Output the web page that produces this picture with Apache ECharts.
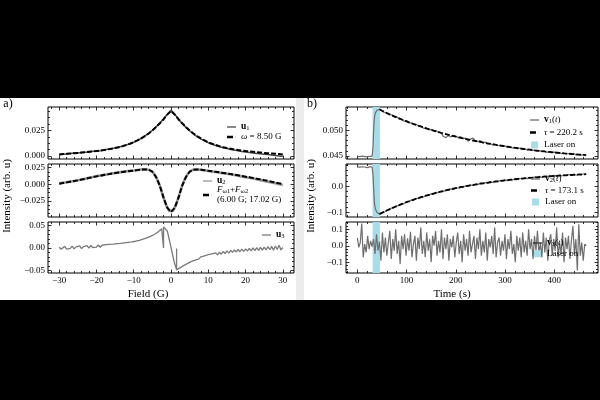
<!DOCTYPE html>
<html>
<head>
<meta charset="utf-8">
<script src="https://cdn.jsdelivr.net/npm/echarts@6.0.0/dist/echarts.min.js"></script>
<style>
  html, body { margin: 0; padding: 0; background: #000; }
  #chart { width: 600px; height: 400px; }
</style>
</head>
<body>
<div id="chart"></div>
<script>
// ---------- a) field sweep ----------
const fieldX = [-30,-29,-28,-27,-26,-25,-24,-23,-22,-21,-20,-19,-18,-17,-16,-15,-14,-13,-12,-11,-10,-9,-8,-7,-6,-5,-4,-3,-2,-1,
  0,1,2,3,4,5,6,7,8,9,10,11,12,13,14,15,16,17,18,19,20,21,22,23,24,25,26,27,28,29,30]
const u1Vals = [.0012,.0016,.0020,.0023,.0028,.0029,.0034,.0037,.0039,.0045,.0049,.0052,.0059,.0065,.0070,.0079,.0087,.0095,.0108,.0121,
  .0134,.0153,.0171,.0196,.0221,.0252,.0285,.0322,.0362,.0408,
  .0448,
  .0410,.0362,.0318,.0280,.0247,.0217,.0190,.0168,.0148,.0130,.0115,.0102,.0091,.0081,.0072,.0064,.0057,.0050,.0044,.0039,
  .0034,.0029,.0025,.0021,.0017,.0013,.0009,.0005,.0000,-.0006]
const fit1Vals = [.0015,.0018,.0021,.0024,.0027,.0030,.0033,.0036,.0040,.0044,.0048,.0053,.0058,.0064,.0071,.0078,.0086,.0096,.0107,.0120,
  .0135,.0152,.0172,.0194,.0220,.0250,.0283,.0320,.0360,.0405,
  .0440,
  .0405,.0360,.0320,.0283,.0250,.0220,.0194,.0172,.0152,.0135,.0120,.0107,.0096,.0086,.0078,.0071,.0064,.0058,.0053,.0048,
  .0044,.0040,.0036,.0033,.0030,.0027,.0024,.0021,.0018,.0015]
const fit2Vals = [.0010,.0020,.0030,.0040,.0050,.0060,.0072,.0084,.0096,.0108,.0120,.0130,.0140,.0150,.0160,.0170,.0178,.0186,.0194,.0200,
  .0206,.0214,.0221,.0225,.0220,.0190,.0110,-.0020,-.0200,-.0350,
  -.0415,
  -.0350,-.0200,-.0020,.0110,.0190,.0220,.0225,.0220,.0212,.0204,.0196,.0188,.0180,.0172,.0164,.0155,.0146,.0136,.0126,.0116,
  .0106,.0096,.0086,.0075,.0064,.0052,.0040,.0028,.0016,.0005]
const fieldXFine = [-30,-29.5,-29,-28.5,-28,-27.5,-27,-26.5,-26,-25.5,-25,-24.5,-24,-23.5,-23,-22.5,-22,-21.5,-21,-20.5,
  -20,-19.5,-19,-18.5,-18,-17.5,-17,-16.5,-16,-15.5,-15,-14.5,-14,-13.5,-13,-12.5,-12,-11.5,-11,-10.5,
  -10,-9.5,-9,-8.5,-8,-7.5,-7,-6.5,-6,-5.5,-5,-4.5,-4,-3.5,-3,-2.5,-2,-1.5,-1,-0.5,
  0,0.5,1,1.5,2,2.5,3,3.5,4,4.5,5,5.5,6,6.5,7,7.5,8,8.5,9,9.5,
  10,10.5,11,11.5,12,12.5,13,13.5,14,14.5,15,15.5,16,16.5,17,17.5,18,18.5,19,19.5,
  20,20.5,21,21.5,22,22.5,23,23.5,24,24.5,25,25.5,26,26.5,27,27.5,28,28.5,29,29.5,30]
const u2Vals = [.0012,.0008,.0024,.0019,.0031,.0027,.0043,.0038,.0052,.0049,.0063,.0060,.0074,.0071,.0086,.0083,.0098,.0095,.0110,.0106,
  .0122,.0118,.0133,.0128,.0143,.0138,.0152,.0149,.0162,.0158,.0172,.0167,.0180,.0176,.0189,.0185,.0196,.0192,.0203,.0199,
  .0209,.0206,.0217,.0215,.0224,.0222,.0228,.0222,.0220,.0208,.0190,.0155,.0110,.0050,-.0020,-.0110,-.0200,-.0285,-.0350,-.0398,
  -.0415,-.0398,-.0350,-.0285,-.0200,-.0110,-.0020,.0050,.0110,.0155,.0190,.0210,.0221,.0226,.0224,.0228,.0219,.0222,.0211,.0214,
  .0202,.0206,.0194,.0198,.0186,.0190,.0177,.0182,.0169,.0174,.0160,.0165,.0151,.0155,.0141,.0146,.0131,.0135,.0120,.0125,
  .0109,.0114,.0098,.0103,.0087,.0091,.0076,.0080,.0064,.0069,.0052,.0057,.0040,.0045,.0028,.0033,.0016,.0021,.0004,.0009,-.0010]
const u3X = [-30,-29.5,-29,-28.5,-28,-27.5,-27,-26.5,-26,-25.5,-25,-24.5,-24,-23.5,-23,-22.5,-22,-21.5,-21,-20.5,
  -20,-19.5,-19,-18.5,-18,-17.5,-17,-16.5,-16,-15.5,-15,-14.5,-14,-13.5,-13,-12.5,-12,-11.5,-11,-10.5,
  -10,-9.5,-9,-8.5,-8,-7.5,-7,-6.5,-6,-5.5,-5,-4.5,-4,-3.5,-3,-2.5,
  -2,-2,-2,-1.5,-1,-0.5,0,0.5,1,1.5,1.5,1.5,
  2,2.5,3,3.5,4,4.5,5,5.5,6,6.5,7,7.5,8,8.5,9,9.5,
  10,10.5,11,11.5,12,12.5,13,13.5,14,14.5,15,15.5,16,16.5,17,17.5,18,18.5,19,19.5,
  20,20.5,21,21.5,22,22.5,23,23.5,24,24.5,25,25.5,26,26.5,27,27.5,28,28.5,29,29.5,30]
const u3Vals = [.0020,-.0030,.0010,.0035,-.0025,.0015,-.0010,.0040,-.0020,.0025,
  .0000,.0045,-.0015,.0030,.0005,.0050,-.0005,.0055,.0010,.0045,
  .0020,.0065,.0015,.0060,.0030,.0075,.0035,.0080,.0040,.0085,
  .0050,.0095,.0060,.0100,.0070,.0115,.0080,.0125,.0095,.0135,
  .0110,.0150,.0130,.0170,.0150,.0195,.0180,.0225,.0215,.0260,
  .0255,.0300,.0310,.0355,.0380,.0430,
  .0465,.0000,.0470,.0500,.0380,.0200,.0020,-.0180,-.0360,-.0480,-.0010,-.0490,
  -.0470,-.0440,-.0400,-.0390,-.0350,-.0345,-.0305,-.0300,-.0265,-.0270,
  -.0230,-.0245,-.0200,-.0225,-.0175,-.0205,-.0150,-.0185,-.0130,-.0170,
  -.0110,-.0155,-.0095,-.0140,-.0080,-.0125,-.0065,-.0115,-.0055,-.0100,
  -.0045,-.0090,-.0035,-.0085,-.0025,-.0075,-.0020,-.0070,-.0010,-.0065,
  .0000,-.0060,.0005,-.0055,.0015,-.0050,.0020,-.0045,.0030,-.0040,
  .0035,-.0050,.0045,-.0035,.0060,-.0045,.0010]

// ---------- b) time trace ----------
const vTime = [0,5,10,15,20,25,30,31,32,33,34,35,37,40,43,45,
  50,55,60,65,70,75,80,85,90,95,100,105,110,115,120,125,130,135,140,145,
  150,155,160,165,170,175,180,185,190,195,200,205,210,215,220,225,230,235,240,245,
  250,255,260,265,270,275,280,285,290,295,300,305,310,315,320,325,330,335,340,345,
  350,355,360,365,370,375,380,385,390,395,400,405,410,415,420,425,430,435,440,445,
  450,455,460,465]
const v1Vals = [.04490,.04487,.04495,.04488,.04486,.04493,.04490,.04495,.04700,.04950,.05150,.05270,.05350,.05395,.05412,.05415,
  .05390,.05352,.05345,.05310,.05305,.05262,.05270,.05228,.05220,.05180,
  .05195,.05150,.05148,.05110,.05118,.05080,.05085,.05040,.05050,.05015,
  .05020,.04990,.04995,.04960,.04950,.04880,.04860,.04900,.04870,.04905,
  .04890,.04860,.04875,.04840,.04850,.04790,.04830,.04850,.04800,.04780,
  .04800,.04750,.04775,.04735,.04745,.04715,.04730,.04700,.04710,.04685,
  .04695,.04670,.04680,.04655,.04665,.04640,.04655,.04630,.04640,.04615,
  .04630,.04605,.04615,.04595,.04605,.04585,.04595,.04570,.04585,.04565,
  .04575,.04555,.04565,.04545,.04555,.04538,.04548,.04530,.04540,.04522,
  .04530,.04515,.04525,.04505]
const v2Vals = [.0730,.0724,.0736,.0727,.0700,.0731,.0729,.0720,.0400,.0000,-.0400,-.0680,-.0880,-.1000,-.1050,-.1060,
  -.1000,-.0985,-.0915,-.0895,-.0825,-.0810,-.0745,-.0735,-.0665,-.0660,
  -.0595,-.0590,-.0525,-.0530,-.0460,-.0465,-.0400,-.0410,-.0345,-.0355,
  -.0290,-.0300,-.0235,-.0250,-.0190,-.0205,-.0145,-.0160,-.0100,-.0115,
  -.0060,-.0080,-.0020,-.0045,.0015,-.0005,.0050,.0025,.0080,.0055,
  .0115,.0085,.0140,.0110,.0170,.0140,.0195,.0160,.0215,.0190,
  .0240,.0210,.0265,.0230,.0280,.0250,.0300,.0270,.0320,.0285,
  .0335,.0300,.0350,.0320,.0370,.0330,.0385,.0345,.0400,.0360,
  .0410,.0370,.0420,.0385,.0435,.0395,.0445,.0405,.0455,.0415,
  .0460,.0425,.0470,.0455]
const tauTime = [45,50,60,70,80,90,100,110,120,130,140,150,160,170,180,190,200,210,220,230,240,
  250,260,270,280,290,300,310,320,330,340,350,360,370,380,390,400,410,420,430,440,450,460,465]
const tau1Vals = [.05415,.05387,.05341,.05297,.05256,.05216,.05178,.05142,.05107,.05074,.05042,.05012,.04983,.04955,.04929,.04903,
  .04879,.04856,.04834,.04813,.04793,.04774,.04755,.04738,.04721,.04705,.04690,.04675,.04661,.04648,.04635,.04623,
  .04611,.04600,.04589,.04579,.04569,.04560,.04551,.04543,.04535,.04527,.04519,.04515]
const tau2Vals = [-.1060,-.1013,-.0922,-.0837,-.0756,-.0680,-.0608,-.0540,-.0476,-.0416,-.0359,-.0305,-.0254,-.0206,-.0161,-.0118,
  -.0078,-.0040,-.0004,.0030,.0062,.0092,.0121,.0148,.0173,.0197,.0220,.0241,.0261,.0280,.0298,.0315,
  .0331,.0346,.0360,.0374,.0387,.0399,.0410,.0421,.0431,.0440,.0449,.0453]
const v3Time = [0,3,6,9,12,15,18,21,24,27,30,33,36,39,42,45,48,51,54,57,60,63,66,69,72,75,78,81,84,87,
  90,93,96,99,102,105,108,111,114,117,120,123,126,129,132,135,138,141,144,147,150,153,156,159,162,165,168,171,174,177,
  180,183,186,189,192,195,198,201,204,207,210,213,216,219,222,225,228,231,234,237,240,243,246,249,252,255,258,261,264,267,
  270,273,276,279,282,285,288,291,294,297,300,303,306,309,312,315,318,321,324,327,330,333,336,339,342,345,348,351,354,357,
  360,363,366,369,372,375,378,381,384,387,390,393,396,399,402,405,408,411,414,417,420,423,426,429,432,435,438,441,444,447,
  450,453,456,459,462,465]
const v3Vals = [.048,-.010,.020,.135,-.070,.010,-.040,.060,-.020,.030,
  -.005,.040,-.050,.070,-.030,.025,-.090,.080,-.040,.050,
  -.060,.020,.090,-.080,.040,-.030,.100,-.050,.030,-.110,
  .060,-.020,.070,-.060,.045,-.030,.085,-.070,.010,.060,
  -.090,.050,-.020,.110,-.050,.030,-.070,.080,-.030,.040,
  -.100,.060,.000,.090,-.060,.030,-.040,.100,-.080,.050,
  -.020,.070,-.090,.040,-.010,.060,-.070,.020,.080,-.050,
  .030,-.100,.070,-.030,.040,-.060,.090,-.040,.010,.060,
  -.080,.050,-.020,.100,-.060,.030,-.040,.080,-.090,.040,
  -.010,.060,-.050,.110,-.070,.020,.050,-.060,.030,-.030,
  .070,-.080,.040,-.020,.090,-.050,.010,-.100,.060,-.030,
  .050,-.070,.080,-.040,.030,-.060,.100,-.020,.040,-.080,
  .060,-.030,.090,-.050,.020,-.070,.080,-.040,.050,-.090,
  .030,.070,-.060,.040,-.030,.110,-.070,.020,-.050,.080,
  -.100,.050,-.020,.060,-.080,.030,.120,-.050,.040,-.150,
  .130,-.060,.020,-.090,.010,.000]
const laserOn = [31, 46]

// tick labels
const fieldTicks = [-30, -20, -10, 0, 10, 20, 30]
const timeTicks = [0, 100, 200, 300, 400]
const a1Ticks = [0, 0.025]
const a2Ticks = [-0.025, 0, 0.025]
const a3Ticks = [-0.05, 0, 0.05]
const b1Ticks = [0.045, 0.050]
const b2Ticks = [-0.1, 0.0]
const b3Ticks = [-0.1, 0.0, 0.1]

const FONT = '"Liberation Serif", "DejaVu Serif", serif'
const LASER = '#a9dce9'
const DATA_GREY = '#6e6e6e'

const zip = (xs, ys) => xs.map((x, i) => [x, ys[i]])
const signed = d => v => (v < -1e-9 ? '\u2212' : '') + Math.abs(v).toFixed(d)

const grids = [
    { left: 48, top: 107, width: 246, height: 52 },
    { left: 48, top: 164, width: 246, height: 53 },
    { left: 48, top: 222, width: 246, height: 51 },
    { left: 346, top: 107, width: 252, height: 52 },
    { left: 346, top: 164, width: 252, height: 53 },
    { left: 346, top: 222, width: 252, height: 51 }
].map(g => ({ ...g, show: true, borderColor: '#000', borderWidth: 1, backgroundColor: 'transparent' }))

const xAxes = []
const yAxes = []

const minorTicks = (lo, hi, step, majors) => {
    const out = []
    for (let k = Math.ceil(lo / step); k * step <= hi + 1e-12; k++) {
        const v = +(k * step).toFixed(8)
        if (!majors.some(m => Math.abs(m - v) < step / 10)) out.push(v)
    }
    return out
}

// major + minor ticks on both sides, labels only on the first axis
const addAxes = (list, gi, min, max, majors, minorStep, fmt, sides) => {
    const minors = minorTicks(min, max, minorStep, majors)
    const first = list.length
    sides.forEach((pos, k) => {
        [[majors, 3.5], [minors, 2]].forEach(([vals, len], j) => {
            list.push({
                type: 'value', gridIndex: gi, min, max, position: pos,
                axisLine: { show: false, onZero: false },
                splitLine: { show: false },
                axisTick: { show: true, inside: true, length: len, customValues: vals, lineStyle: { color: '#000', width: 0.8 } },
                axisLabel: (k === 0 && j === 0 && fmt)
                    ? { show: true, customValues: majors, formatter: fmt, margin: 3, fontFamily: FONT, fontSize: 9, color: '#000' }
                    : { show: false }
            })
        })
    })
    return first
}

const panels = [
    { x: [-33, 33, fieldTicks, 2, signed(0), false], y: [-0.003, 0.048, a1Ticks, 0.00625, signed(3)] },
    { x: [-33, 33, fieldTicks, 2, signed(0), false], y: [-0.049, 0.0306, a2Ticks, 0.00625, signed(3)] },
    { x: [-33, 33, fieldTicks, 2, signed(0), true], y: [-0.056, 0.058, a3Ticks, 0.01, signed(2)] },
    { x: [-23, 489, timeTicks, 20, signed(0), false], y: [0.0444, 0.0546, b1Ticks, 0.001, signed(3)] },
    { x: [-23, 489, timeTicks, 20, signed(0), false], y: [-0.117, 0.084, b2Ticks, 0.02, signed(1)] },
    { x: [-23, 489, timeTicks, 20, signed(0), true], y: [-0.165, 0.144, b3Ticks, 0.02, signed(1)] }
]

const axisIdx = panels.map((p, gi) => {
    const [xmin, xmax, xt, xs, xf, xl] = p.x
    const [ymin, ymax, yt, ys, yf] = p.y
    return {
        x: addAxes(xAxes, gi, xmin, xmax, xt, xs, xl ? xf : null, ['bottom', 'top']),
        y: addAxes(yAxes, gi, ymin, ymax, yt, ys, yf, ['left', 'right'])
    }
})

const line = (name, gi, data, color, width, dashed, z) => ({
    name, type: 'line', xAxisIndex: axisIdx[gi].x, yAxisIndex: axisIdx[gi].y,
    data, symbol: 'none', showSymbol: false, z, silent: true,
    itemStyle: { color },
    lineStyle: { color, width, type: dashed ? [5, 2] : 'solid' }
})

const laser = (name, gi) => ({
    name, type: 'line', xAxisIndex: axisIdx[gi].x, yAxisIndex: axisIdx[gi].y,
    data: [], symbol: 'none', z: 1, silent: true,
    itemStyle: { color: LASER },
    markArea: {
        silent: true,
        itemStyle: { color: LASER, opacity: 1 },
        data: [[{ xAxis: laserOn[0] }, { xAxis: laserOn[1] }]]
    }
})

const series = [
    line('u1', 0, zip(fieldX, u1Vals), '#4a4a4a', 1.5, false, 2),
    line('fit1', 0, zip(fieldX, fit1Vals), '#000', 2, true, 3),
    line('u2', 1, zip(fieldXFine, u2Vals), '#969696', 2.6, false, 2),
    line('fit2', 1, zip(fieldX, fit2Vals), '#000', 2, true, 3),
    line('u3', 2, zip(u3X, u3Vals), '#7a7a7a', 1.3, false, 2),
    laser('laser1', 3),
    line('v1', 3, zip(vTime, v1Vals), DATA_GREY, 1.2, false, 2),
    line('tau1', 3, zip(tauTime, tau1Vals), '#000', 1.8, true, 3),
    laser('laser2', 4),
    line('v2', 4, zip(vTime, v2Vals), DATA_GREY, 1.2, false, 2),
    line('tau2', 4, zip(tauTime, tau2Vals), '#000', 1.8, true, 3),
    laser('laser3', 5),
    line('v3', 5, zip(v3Time, v3Vals), DATA_GREY, 1.2, false, 2)
]

const legendText = {
    u1: '{b|u}{s|1}',
    fit1: '{i|\u03c9} = 8.50 G',
    u2: '{b|u}{s|2}',
    fit2: '{i|F}{s|\u03c91}+{i|F}{s|\u03c92}\n(6.00 G; 17.02 G)',
    u3: '{b|u}{s|3}',
    v1: '{b|v}{s|1}({i|t})',
    tau1: '{i|\u03c4} = 220.2 s',
    laser1: 'Laser on',
    v2: '{b|v}{s|2}({i|t})',
    tau2: '{i|\u03c4} = 173.1 s',
    laser2: 'Laser on',
    v3: '{b|v}{s|3}({i|t})',
    laser3: 'Laser on'
}

const rich = {
    b: { fontFamily: FONT, fontSize: 9.5, fontWeight: 'bold', color: '#000' },
    i: { fontFamily: FONT, fontSize: 9, fontStyle: 'italic', color: '#000' },
    s: { fontFamily: FONT, fontSize: 6.5, lineHeight: 5, verticalAlign: 'bottom', color: '#000' }
}

// legend glyphs: thin solid stroke, one thick dash, small square
const lineItem = (name, color) => ({ name, icon: 'path://M0,0H9V1.3H0Z', itemStyle: { color } })
const fitItem = name => ({ name, icon: 'path://M0,0H6V2.4H0ZM8.9,0H9V2.4H8.9Z', itemStyle: { color: '#000' } })
const laserItem = name => ({ name, icon: 'path://M0,0H1V1H0Z', itemStyle: { color: LASER } })

const legendAt = (left, top, gap, data) => ({
    orient: 'vertical', left, top, itemGap: gap, itemWidth: 9, itemHeight: 7, padding: 0,
    selectedMode: false, data,
    formatter: n => legendText[n],
    textStyle: { fontFamily: FONT, fontSize: 9, color: '#000', lineHeight: 10, rich }
})

const legends = [
    legendAt(227, 122, 0, [lineItem('u1', '#4a4a4a'), fitItem('fit1')]),
    legendAt(203, 176, -1, [lineItem('u2', '#969696'), fitItem('fit2')]),
    legendAt(262, 230, 0, [lineItem('u3', '#7a7a7a')]),
    legendAt(530, 115, 2.5, [lineItem('v1', DATA_GREY), fitItem('tau1'), laserItem('laser1')]),
    legendAt(531, 174, 1.5, [lineItem('v2', DATA_GREY), fitItem('tau2'), laserItem('laser2')]),
    legendAt(533, 238, 0.7, [lineItem('v3', '#333'), laserItem('laser3')])
]

const label = (text, x, y, size, extra) => ({
    type: 'text', x, y, z: 10, ...extra,
    style: { text, fontFamily: FONT, fontSize: size, fill: '#000', align: 'center', verticalAlign: 'middle' }
})

const chart = echarts.init(document.getElementById('chart'), null, { renderer: 'canvas' })
chart.setOption({
    backgroundColor: '#000',
    animation: false,
    grid: grids,
    xAxis: xAxes,
    yAxis: yAxes,
    legend: legends,
    series,
    graphic: [
        { type: 'rect', z: -10, shape: { x: 0, y: 98, width: 600, height: 202 }, style: { fill: '#fff' } },
        { type: 'rect', z: -9, shape: { x: 296, y: 98, width: 8, height: 202 }, style: { fill: '#ececec' } },
        label('a)', 8, 104, 12),
        label('b)', 312, 104, 12),
        label('Intensity (arb. u)', 7, 196, 11, { rotation: Math.PI / 2 }),
        label('Intensity (arb. u)', 311, 196, 11, { rotation: Math.PI / 2 }),
        label('Field (G)', 148, 294, 11),
        label('Time (s)', 452, 294, 11)
    ]
})
</script>
</body>
</html>
